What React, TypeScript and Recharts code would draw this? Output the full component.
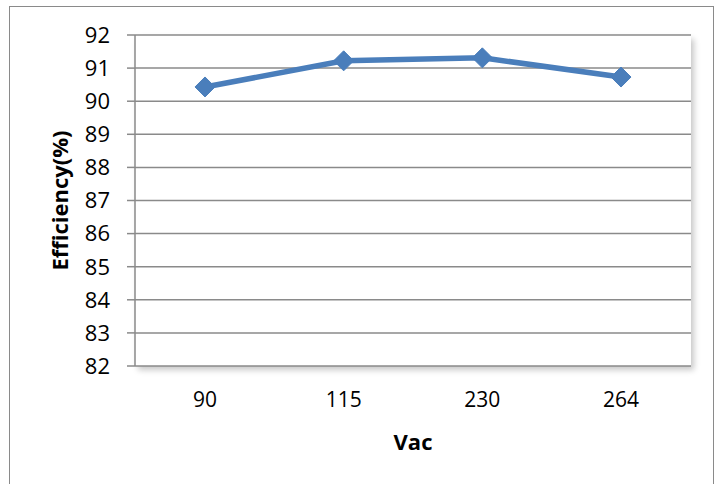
import React from "react";
import { LineChart, Line, XAxis, YAxis, CartesianGrid, Label } from "recharts";

const categories = ["90", "115", "230", "264"];
const efficiency = [90.43, 91.22, 91.31, 90.73];
const yTicks = [82, 83, 84, 85, 86, 87, 88, 89, 90, 91, 92];

const data = categories.map((c, i) => ({ vac: c, eff: efficiency[i] }));

const FONT = "'Open Sans', 'Liberation Sans', sans-serif";

const Diamond = (props: any) => {
  const { cx, cy } = props;
  if (cx == null || cy == null) return null;
  const r = 10;
  return (
    <path
      d={`M${cx},${cy - r} L${cx + r},${cy} L${cx},${cy + r} L${cx - r},${cy} Z`}
      fill="#4a7ebb"
      stroke="#4a7ebb"
    />
  );
};

export default function App() {
  return (
    <div style={{ position: "absolute", left: 0, top: 0, width: 725, height: 484, background: "#fff", overflow: "hidden" }}>
      <div
        style={{
          position: "absolute",
          left: 9,
          top: 6,
          width: 705,
          height: 500,
          border: "1.5px solid #8a8a8a",
          boxSizing: "border-box",
        }}
      />
      <div
        style={{
          position: "absolute",
          left: 135,
          top: 35,
          width: 556,
          height: 331,
          background: "#fff",
          boxShadow: "3px 4px 6px rgba(0,0,0,0.22)",
        }}
      />
      <div style={{ position: "absolute", left: 0, top: 0 }}>
        <LineChart
          width={725}
          height={484}
          data={data}
          margin={{ top: 35, right: 34, bottom: 30, left: 0 }}
        >
          <CartesianGrid vertical={false} stroke="#8a8a8a" strokeWidth={1.5} />
          <XAxis
            dataKey="vac"
            height={88}
            padding={{ left: 70, right: 70 }}
            axisLine={false}
            tickLine={false}
            tickSize={0}
            tickMargin={26}
            tick={{ fill: "#000", fontSize: 21, fontFamily: FONT }}
          >
            <Label
              value="Vac"
              position="insideBottom"
              offset={4}
              style={{ fill: "#000", fontSize: 22, fontWeight: 700, fontFamily: FONT }}
            />
          </XAxis>
          <YAxis
            width={135}
            domain={[82, 92]}
            ticks={yTicks}
            interval={0}
            axisLine={{ stroke: "#8a8a8a", strokeWidth: 1.5 }}
            tickLine={{ stroke: "#8a8a8a", strokeWidth: 1.5 }}
            tickSize={8}
            tickMargin={17}
            tick={{ fill: "#000", fontSize: 22, fontFamily: FONT }}
          >
            <Label
              value="Efficiency(%)"
              angle={-90}
              position="insideLeft"
              offset={60}
              style={{ fill: "#000", fontSize: 22, fontWeight: 700, fontFamily: FONT, textAnchor: "middle" }}
            />
          </YAxis>
          <Line
            type="linear"
            dataKey="eff"
            stroke="#4a7ebb"
            strokeWidth={5.5}
            dot={<Diamond />}
            activeDot={false}
            isAnimationActive={false}
          />
        </LineChart>
      </div>
    </div>
  );
}
